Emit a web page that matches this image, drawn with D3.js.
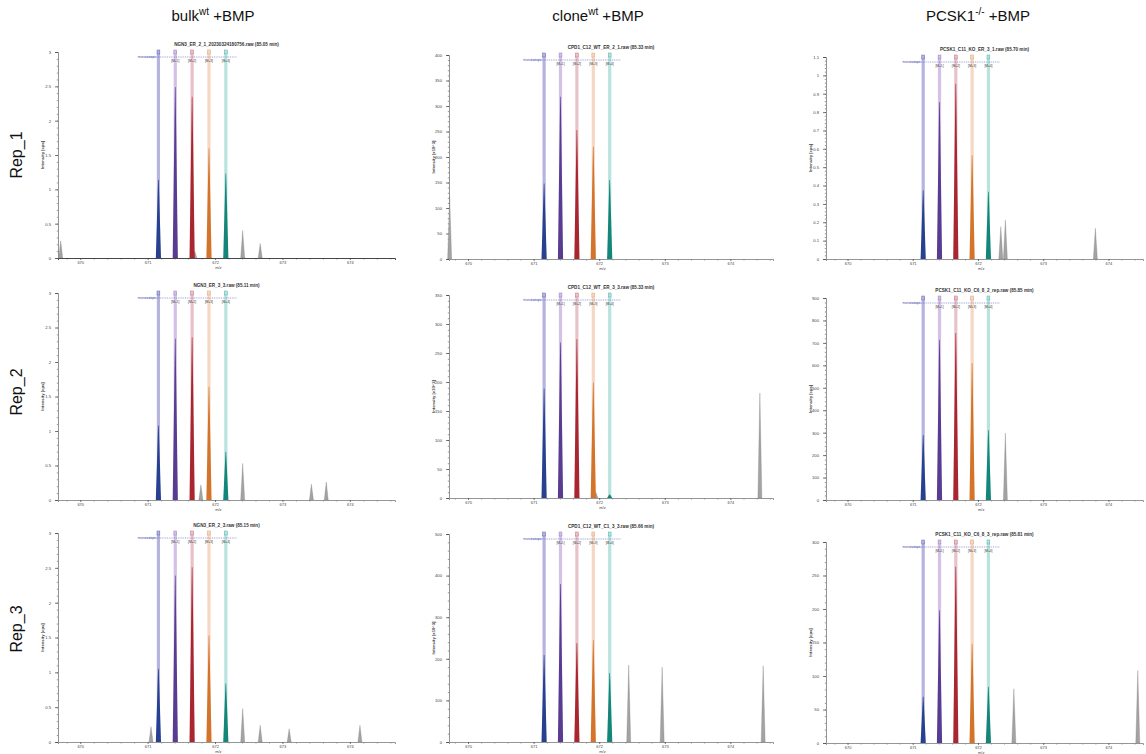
<!DOCTYPE html>
<html>
<head>
<meta charset="utf-8">
<script src="https://cdn.jsdelivr.net/npm/d3@7"></script>
<style>
  body { margin: 0; background: #fff; }
  svg { display: block; font-family: "Liberation Sans", Arial, sans-serif; }
</style>
</head>
<body>
<div id="container"></div>
<script>
// ---------------------------------------------------------------- data
const columnNames = ["bulk", "clone", "PCSK1"];
const columnSups  = ["wt", "wt", "-/-"];
const conditionText = " +BMP";
const rowNames = ["Rep_1", "Rep_2", "Rep_3"];

// panels are row-major: r1c1, r1c2, r1c3, r2c1 ...
const runTitles = [
    "NGN3_ER_2_1_20230324180756.raw (85.05 min)",
    "CPD1_C12_WT_ER_2_1.raw (85.33 min)",
    "PCSK1_C11_KO_ER_3_1.raw (85.70 min)",
    "NGN3_ER_3_3.raw (85.11 min)",
    "CPD1_C12_WT_ER_3_3.raw (85.33 min)",
    "PCSK1_C11_KO_C6_8_2_rep.raw (85.85 min)",
    "NGN3_ER_2_3.raw (85.15 min)",
    "CPD1_C12_WT_C1_3_3.raw (85.66 min)",
    "PCSK1_C11_KO_C6_8_3_rep.raw (85.81 min)"
];
const yLabels = ["Intensity [cps]", "Intensity [x10^3]", "Intensity [cps]"];

const isotopeNames = ["monoisotopic", "[M+1]", "[M+2]", "[M+3]", "[M+4]"];
const isotopeMz = [671.16, 671.41, 671.66, 671.91, 672.16];
const isotopeHeights = [
    [1.14, 2.49, 2.35, 1.60, 1.23],
    [148, 318, 253, 220, 155],
    [0.375, 0.855, 0.955, 0.565, 0.366],
    [1.08, 2.34, 2.36, 1.64, 0.70],
    [189, 268, 274, 199, 6],
    [290, 714, 744, 610, 312],
    [1.05, 2.39, 2.51, 1.53, 0.84],
    [209, 380, 238, 245, 166],
    [69, 198, 263, 148, 84]
];
// unassigned peaks: [m/z, intensity]
const otherPeaks = [
    [[669.71, 0.25], [671.70, 0.10], [672.41, 0.40], [672.67, 0.21]],
    [[669.72, 122]],
    [[672.35, 0.176], [672.42, 0.212], [673.80, 0.167]],
    [[671.79, 0.22], [672.41, 0.53], [673.43, 0.23], [673.65, 0.26]],
    [[671.95, 10], [674.45, 181]],
    [[672.42, 298]],
    [[671.05, 0.22], [672.41, 0.48], [672.67, 0.24], [673.10, 0.19], [674.15, 0.24]],
    [[672.45, 185], [672.96, 180], [674.50, 183]],
    [[672.55, 81], [674.45, 108]]
];
const yMax  = [3, 400, 1.1, 3, 350, 900, 3, 500, 300];
const yStep = [0.5, 50, 0.1, 0.5, 50, 100, 0.5, 100, 50];
const xTickValues = [670, 671, 672, 673, 674];
const xDomains = [[669.67, 674.67], [669.71, 674.65], [669.67, 674.53]];

// ---------------------------------------------------------------- layout / style
const width = 1146, height = 754;
const colLeft  = [58, 449, 826];
const colRight = [395, 773, 1143];
const panelTop    = [[52, 55, 57], [293, 295, 298], [533, 534, 542]];
const panelBottom = [[258, 259, 259], [500, 498, 500], [742, 742, 743]];
const headerX = [213, 598, 978];
const rowLabelY = [155, 392, 629];

const bandColors = ["#b6b3de", "#d5c1e5", "#e8c2c9", "#f6d8c2", "#b9e3df"];
const peakColors = ["#27408f", "#583c92", "#a92630", "#d4742a", "#138579"];
const markColors = ["#5c63b8", "#9a7cc4", "#c8727e", "#e3a071", "#4fb3aa"];

const svg = d3.select("#container").append("svg")
    .attr("width", width)
    .attr("height", height);

// ---------------------------------------------------------------- headers
columnNames.forEach((name, c) => {
    const t = svg.append("text")
        .attr("x", headerX[c])
        .attr("y", 21)
        .attr("text-anchor", "middle")
        .attr("font-size", 15)
        .attr("fill", "#111");
    t.append("tspan").text(name);
    t.append("tspan").attr("font-size", 10).attr("dy", -6).text(columnSups[c]);
    t.append("tspan").attr("dy", 6).text(conditionText);
});

rowNames.forEach((name, r) => {
    svg.append("text")
        .attr("transform", `translate(22,${rowLabelY[r]}) rotate(-90)`)
        .attr("text-anchor", "middle")
        .attr("font-size", 16)
        .attr("fill", "#111")
        .text(name);
});

// ---------------------------------------------------------------- panels
for (let r = 0; r < 3; r++) {
    for (let c = 0; c < 3; c++) {
        drawPanel(r, c, r * 3 + c);
    }
}

function drawPanel(r, c, i) {
    const x0 = colLeft[c], x1 = colRight[c];
    const y0 = panelTop[r][c], y1 = panelBottom[r][c];

    const x = d3.scaleLinear(xDomains[c], [x0, x1]);
    const y = d3.scaleLinear([0, yMax[i]], [y1, y0]);
    const g = svg.append("g");

    // title
    g.append("text")
        .attr("x", (x0 + x1) / 2)
        .attr("y", y0 - 6)
        .attr("text-anchor", "middle")
        .attr("font-size", 4.6)
        .attr("font-weight", "bold")
        .attr("fill", "#333")
        .text(runTitles[i]);

    // y axis
    const fmt = yStep[i] < 1 ? d3.format("~g") : d3.format("d");
    const majorY = d3.range(0, yMax[i] + yStep[i] / 2, yStep[i]);
    const minorY = d3.range(0, yMax[i] + 1e-9, yStep[i] / 5);
    g.append("g")
        .attr("transform", `translate(${x0},0)`)
        .call(d3.axisLeft(y).tickValues(minorY).tickSize(1.2).tickFormat(""))
        .call(a => a.select(".domain").remove())
        .call(a => a.selectAll("line").attr("stroke", "#555").attr("stroke-width", 0.6));
    g.append("g")
        .attr("transform", `translate(${x0},0)`)
        .call(d3.axisLeft(y).tickValues(majorY).tickSize(3).tickPadding(4).tickFormat(fmt))
        .call(a => a.select(".domain").attr("stroke", "#666").attr("stroke-width", 0.7))
        .call(a => a.selectAll("line").attr("stroke", "#444").attr("stroke-width", 0.7))
        .call(a => a.selectAll("text").attr("font-size", 4.2).attr("fill", "#444")
            .attr("font-family", "Liberation Sans, Arial, sans-serif"));

    g.append("text")
        .attr("transform", `translate(${x0 - 14},${(y0 + y1) / 2}) rotate(-90)`)
        .attr("text-anchor", "middle")
        .attr("font-size", 4.2)
        .attr("font-weight", "bold")
        .attr("fill", "#444")
        .text(yLabels[c]);

    // x axis
    const minorX = d3.range(669.8, xDomains[c][1], 0.2).filter(v => Math.abs(v - Math.round(v)) > 0.01);
    g.append("g")
        .attr("transform", `translate(0,${y1})`)
        .call(d3.axisBottom(x).tickValues(minorX).tickSize(1.5).tickFormat(""))
        .call(a => a.select(".domain").remove())
        .call(a => a.selectAll("line").attr("stroke", "#555").attr("stroke-width", 0.6));
    g.append("g")
        .attr("transform", `translate(0,${y1})`)
        .call(d3.axisBottom(x).tickValues(xTickValues).tickSize(2).tickPadding(1).tickFormat(d3.format("d")))
        .call(a => a.select(".domain").attr("stroke", r === 0 && c === 0 ? "#333" : "#8a8a8a").attr("stroke-width", 0.9))
        .call(a => a.selectAll("line").attr("stroke", "#444").attr("stroke-width", 0.7))
        .call(a => a.selectAll("text").attr("font-size", 4).attr("fill", "#444")
            .attr("font-family", "Liberation Sans, Arial, sans-serif"));

    g.append("text")
        .attr("x", x(672.05))
        .attr("y", y1 + 11)
        .attr("text-anchor", "middle")
        .attr("font-size", 4)
        .attr("fill", "#444")
        .text("m/z");

    // isotope bands
    g.append("g").selectAll("rect")
        .data(isotopeMz)
        .join("rect")
        .attr("x", d => x(d) - 1.6)
        .attr("y", y0)
        .attr("width", 3.2)
        .attr("height", y1 - y0)
        .attr("fill", (d, k) => bandColors[k]);

    // unassigned peaks
    g.append("g").selectAll("path")
        .data(otherPeaks[i])
        .join("path")
        .attr("d", d => `M${x(d[0]) - 2},${y(0)}L${x(d[0])},${y(d[1])}L${x(d[0]) + 2},${y(0)}Z`)
        .attr("fill", "#a3a3a3")
        .attr("stroke", "#7a7a7a")
        .attr("stroke-width", 0.3);

    // isotope peaks
    g.append("g").selectAll("path")
        .data(isotopeMz.map((mz, k) => ({mz, h: isotopeHeights[i][k], k})))
        .join("path")
        .attr("d", d => `M${x(d.mz) - 2.6},${y(0)}L${x(d.mz) - 0.3},${y(d.h)}L${x(d.mz) + 0.3},${y(d.h)}L${x(d.mz) + 2.6},${y(0)}Z`)
        .attr("fill", d => peakColors[d.k]);

    // annotation on top of the bands
    const ann = g.append("g");
    ann.append("line")
        .attr("x1", x(isotopeMz[0]) - 13)
        .attr("x2", x(isotopeMz[4]) + 11)
        .attr("y1", y0 + 5)
        .attr("y2", y0 + 5)
        .attr("stroke", "#5c63c0")
        .attr("stroke-width", 0.6)
        .attr("stroke-dasharray", "1,0.8");
    ann.selectAll("rect")
        .data(isotopeMz)
        .join("rect")
        .attr("x", d => x(d) - 1.4)
        .attr("y", y0 - 2)
        .attr("width", 2.8)
        .attr("height", 4)
        .attr("fill", (d, k) => bandColors[k])
        .attr("stroke", (d, k) => markColors[k])
        .attr("stroke-width", 0.5);
    ann.selectAll("text")
        .data(isotopeMz)
        .join("text")
        .attr("x", (d, k) => k === 0 ? x(d) - 2 : x(d))
        .attr("y", (d, k) => k === 0 ? y0 + 6.2 : y0 + 10)
        .attr("text-anchor", (d, k) => k === 0 ? "end" : "middle")
        .attr("font-size", 3.2)
        .attr("fill", (d, k) => k === 0 ? "#4a52b0" : "#333")
        .text((d, k) => isotopeNames[k]);
}
</script>
</body>
</html>
